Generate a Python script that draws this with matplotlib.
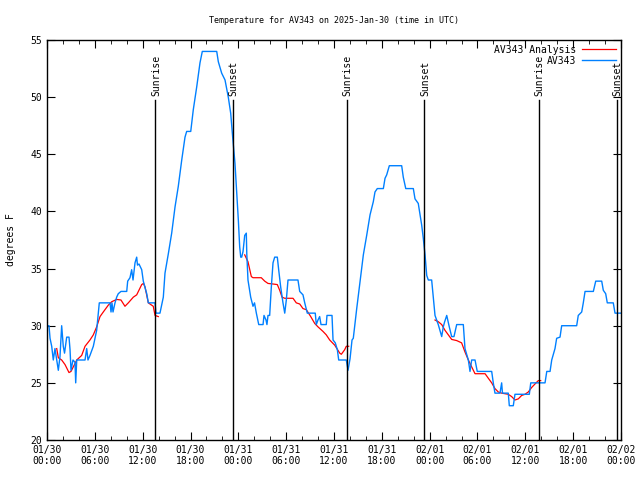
import matplotlib
matplotlib.use('Agg')
from matplotlib import pyplot as plt
import numpy as np

nan = float('nan')

# hours since 2025-01-30 00:00 UTC
blue_hours = [0.0, 0.25, 0.38, 0.59, 0.79, 1.0, 1.13, 1.42, 1.63, 1.84, 2.04, 2.2, 2.47, 2.76,
              2.89, 3.01, 3.26, 3.51, 3.6, 3.73, 4.77, 4.98, 5.14, 5.39, 5.81, 6.23, 6.56, 7.9,
              8.03, 8.15, 8.28, 8.53, 8.74, 8.94, 9.28, 10.0, 10.12, 10.41, 10.62, 10.79, 11.04,
              11.25, 11.35, 11.54, 11.88, 12.08, 12.51, 12.71, 13.55, 13.67, 14.17, 14.59, 14.8,
              15.22, 15.64, 16.06, 16.47, 16.9, 17.31, 17.52, 18.03, 18.35, 18.78, 19.19, 19.48,
              21.29, 21.49, 21.91, 22.33, 22.74, 23.04, 23.29, 23.58, 23.8, 24.0, 24.17, 24.3,
              24.42, 24.59, 24.8, 25.0, 25.06, 25.21, 25.55, 25.84, 26.03, 26.26, 26.56, 27.1,
              27.22, 27.47, 27.59, 27.72, 27.93, 28.14, 28.35, 28.56, 28.89, 29.06, 29.31, 29.6,
              29.82, 30.02, 30.23, 31.48, 31.7, 32.11, 32.33, 32.65, 33.65, 33.78, 33.99, 34.2,
              34.37, 35.03, 35.12, 35.75, 35.88, 36.16, 36.42, 36.59, 37.54, 37.76, 38.01, 38.26,
              38.42, 38.85, 39.26, 39.68, 40.1, 40.52, 40.93, 41.14, 41.43, 42.19, 42.4, 42.61,
              42.94, 44.49, 44.69, 45.0, 45.95, 46.16, 46.57, 46.79, 47.0, 47.2, 47.42, 47.63,
              47.83, 48.25, 48.46, 48.67, 49.08, 49.51, 49.71, 49.86, 50.14, 50.46, 50.76, 51.05,
              51.39, 52.22, 52.43, 52.85, 53.06, 53.27, 53.69, 53.97, 55.78, 55.98, 56.19, 56.82,
              57.03, 57.13, 57.86, 57.99, 58.49, 58.7, 60.5, 60.68, 62.47, 62.69, 63.1, 63.31,
              63.72, 63.93, 64.35, 64.56, 66.44, 66.64, 67.07, 67.27, 67.49, 68.53, 68.83, 69.58,
              69.78, 70.08, 70.28, 71.03, 71.25, 72.0]
blue_temp = [30.0, 30.0, 28.9, 28.2, 27.0, 28.0, 27.4, 26.1, 27.3, 30.0, 28.2, 27.6, 29.0, 29.0,
             27.9, 26.1, 27.0, 26.8, 25.0, 27.0, 27.0, 28.0, 27.0, 27.4, 28.2, 29.6, 32.0, 32.0,
             31.2, 32.0, 31.2, 32.0, 32.5, 32.8, 33.0, 33.0, 33.9, 34.2, 34.9, 34.0, 35.5,
             36.0, 35.3, 35.4, 34.9, 33.9, 32.8, 32.0, 32.0, 31.1, 31.1, 32.5, 34.6,
             36.3, 38.1, 40.4, 42.2, 44.5, 46.5, 47.0, 47.0, 48.9, 50.9, 53.0, 54.0,
             54.0, 53.1, 52.1, 51.5, 50.0, 48.6, 46.5, 44.2, 41.6, 39.25, 36.9, 36.0,
             36.0, 36.5, 37.9, 38.1, 36.3, 34.0, 32.5, 31.7, 32.0, 31.1, 30.1, 30.1,
             30.9, 30.5, 30.1, 30.9, 30.9, 33.4, 35.5, 36.0, 36.0, 34.9, 33.4, 32.0,
             31.1, 32.25, 34.0, 34.0, 33.0, 32.7, 32.0, 31.1, 31.1, 30.1, 30.5, 30.8,
             30.1, 30.1, 30.9, 30.9, 28.75, 28.5, 27.9, 27.0, 27.0, 26.1, 27.1, 28.75,
             28.9, 31.5, 33.85, 36.2, 37.9, 39.7, 40.85, 41.7, 42.0, 42.0, 42.9, 43.2,
             44.0, 44.0, 43.0, 42.0, 42.0, 41.1, 40.7, 39.7, 38.8, 37.65, 36.2, 34.4,
             34.0, 34.0, 32.5, 30.9, 30.1, 29.05, 29.9, 30.3, 30.9, 29.9, 29.05, 29.05,
             30.1, 30.1, 28.0, 27.0, 26.0, 27.0, 27.0, 26.0, 26.0, 25.0, 24.1, 24.1,
             25.0, 24.1, 24.1, 23.0, 23.0, 24.0, 24.0, 25.0, 25.0, 26.0, 26.0, 27.0,
             28.0, 28.9, 29.0, 30.0, 30.0, 30.9, 31.2, 32.0, 33.0, 33.0, 33.9, 33.9,
             33.1, 32.8, 32.0, 32.0, 31.1, 31.1]

red_hours = [1.22, 1.42, 1.84, 2.26, 2.76, 3.01, 3.73, 4.35, 4.77, 5.39, 5.81, 6.23, 6.65, 7.06,
             7.69, 8.12, 8.74, 9.28, 9.78, 10.2, 10.83, 11.25, 11.88, 12.1, 12.29, 12.71, 13.33,
             13.55, 13.96, nan,
             24.8, 25.21, 25.63, 25.84, 26.88, 27.31, 27.72, 28.35, 28.89, 29.19, 29.48, 29.82,
             30.86, 31.27, 31.7, 32.11, 32.53, 33.08, 33.58, 33.99, 34.62, 35.03, 35.46, 36.09,
             36.72, 36.92, 37.34, 37.54, 37.84, nan,
             48.67, 49.08, 49.51, 49.92, 50.34, 50.76, 51.39, 52.01, 52.43, 52.85, 53.27, 53.69,
             54.95, 55.36, 55.78, 56.19, 56.61, 57.03, 57.86, 58.28, 58.7, 59.12, 59.54, 59.96,
             60.37, 60.8, 61.21, 61.63, 61.93]
red_temp = [28.0, 27.2, 27.0, 26.6, 25.9, 26.0, 27.0, 27.4, 28.2, 28.75, 29.2, 29.9, 30.8, 31.2,
            31.8, 32.1, 32.3, 32.25, 31.7, 32.0, 32.5, 32.7, 33.6, 33.7, 33.4, 32.0, 31.7,
            30.9, 30.8, nan,
            36.2, 35.6, 34.3, 34.2, 34.2, 33.9, 33.7, 33.65, 33.6, 33.1, 32.5, 32.4,
            32.4, 32.0, 31.9, 31.5, 31.4, 30.8, 30.2, 29.9, 29.5, 29.2, 28.75, 28.3,
            27.6, 27.5, 27.9, 28.2, 28.2, nan,
            30.5, 30.35, 30.1, 29.6, 29.2, 28.8, 28.7, 28.5, 27.7, 27.0, 26.4, 25.8,
            25.8, 25.4, 25.0, 24.5, 24.2, 24.1, 24.0, 23.8, 23.5, 23.6, 23.9, 24.0,
            24.2, 24.6, 24.9, 25.2, 25.2]

sun_hours = [13.57, 23.3, 37.58, 47.33, 61.68, 71.47]
sun_labels = ['Sunrise', 'Sunset', 'Sunrise', 'Sunset', 'Sunrise', 'Sunset']

tick_hours = [0, 6, 12, 18, 24, 30, 36, 42, 48, 54, 60, 66, 72]
tick_labels = ['01/30\n00:00', '01/30\n06:00', '01/30\n12:00', '01/30\n18:00',
               '01/31\n00:00', '01/31\n06:00', '01/31\n12:00', '01/31\n18:00',
               '02/01\n00:00', '02/01\n06:00', '02/01\n12:00', '02/01\n18:00',
               '02/02\n00:00']

plt.rcParams['font.family'] = 'DejaVu Sans Mono'

fig = plt.figure(figsize=(6.4, 4.8), dpi=100)
ax = fig.add_axes([47 / 640, 40 / 480, 574 / 640, 400 / 480])

ax.plot(red_hours, red_temp, color='#ff0000', lw=0.9, label='AV343 Analysis')
ax.plot(blue_hours, blue_temp, color='#0080ff', lw=1.0, label='AV343')

for h, lab in zip(sun_hours, sun_labels):
    ax.axvline(h, ymin=0, ymax=(49.75 - 20) / 35, color='black', lw=1.0)
    ax.text(h + 0.1, 50.1, lab, rotation=90, ha='center', va='bottom', fontsize=7)

ax.set_xlim(0, 72)
ax.set_ylim(20, 55)
ax.set_xticks(tick_hours)
ax.set_xticklabels(tick_labels, fontsize=7)
ax.set_xticks(np.arange(0, 73, 2), minor=True)
ax.set_yticks(np.arange(20, 56, 5))
ax.tick_params(axis='y', labelsize=7)
ax.tick_params(which='both', direction='in', top=True, right=True)
ax.tick_params(which='major', length=6)
ax.tick_params(which='minor', length=3)
ax.set_ylabel('degrees F', fontsize=7, labelpad=10)
ax.set_title('Temperature for AV343 on 2025-Jan-30 (time in UTC)', fontsize=6, pad=12)

for s in ax.spines.values():
    s.set_linewidth(1.0)

ax.legend(loc='upper right', markerfirst=False, frameon=False, fontsize=7,
          handlelength=3.5, borderaxespad=0.1, labelspacing=0.1, handletextpad=0.6)

plt.savefig('out.png', dpi=100)
